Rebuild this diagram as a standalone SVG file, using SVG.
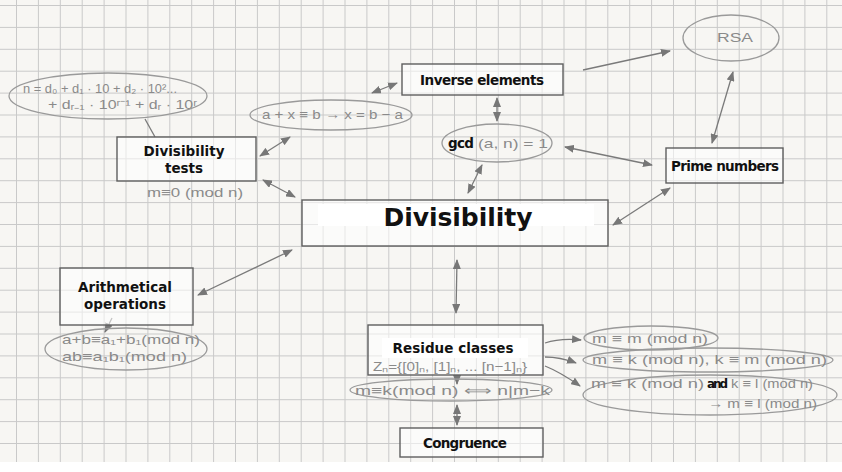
<svg xmlns="http://www.w3.org/2000/svg" width="842" height="472" viewBox="0 0 842 472">
<style>
.box{fill:#ffffff;fill-opacity:0.55;stroke:#5e5e5e;stroke-width:1.4}
.band{fill:#ffffff}
.lbl{font-family:"DejaVu Sans",Verdana,sans-serif;font-weight:bold;font-size:13.5px;fill:#111;text-anchor:middle}
.big{font-size:25px}
.hw{font-family:"Liberation Sans",Arial,sans-serif;font-size:13px;fill:#8a8a8a}
.ell{fill:none;stroke:#9a9a9a;stroke-width:1.3}
.con{fill:none;stroke:#7a7a7a;stroke-width:1.3}
.dbl{marker-start:url(#ah);marker-end:url(#ah)}
.one{marker-end:url(#ah)}
</style>
<defs>
<pattern id="grid" x="16" y="5" width="21.9" height="21.9" patternUnits="userSpaceOnUse">
<path d="M0 0.5H21.9M0.5 0V21.9" stroke="#c9c9c9" stroke-width="1" fill="none"/>
</pattern>
<marker id="ah" viewBox="0 0 10 8" refX="9" refY="4" markerWidth="10" markerHeight="8" markerUnits="userSpaceOnUse" orient="auto-start-reverse">
<path d="M0 0L10 4L0 8Z" fill="#777"/>
</marker>
</defs>
<rect width="842" height="472" fill="#ffffff"/>
<rect width="842" height="462" fill="#f7f6f3"/>
<rect width="842" height="462" fill="url(#grid)"/>

<g id="connectors">
<path class="con" d="M145,119 L155,137"/>
<path class="con dbl" d="M372,93 L397,83"/>
<path class="con one" d="M583,70 L670,51"/>
<path class="con dbl" d="M497,98 L497,121"/>
<path class="con dbl" d="M482,165 L468,193"/>
<path class="con dbl" d="M565,147 L652,165"/>
<path class="con dbl" d="M733,72 L712,143"/>
<path class="con dbl" d="M670,188 L613,225"/>
<path class="con dbl" d="M290,137 L260,156"/>
<path class="con dbl" d="M263,180 L295,197"/>
<path class="con dbl" d="M292,250 L198,295"/>
<path class="con dbl" d="M457,260 L456,313"/>
<path class="con one" d="M457,375 L457,384"/>
<path class="con dbl" d="M457,405 L457,425"/>
<path class="con one" d="M112,318 L105,332"/>
<path class="con one" d="M545,343 Q560,338 581,340"/>
<path class="con one" d="M545,357 Q560,357 576,363"/>
<path class="con one" d="M545,366 Q560,372 580,386"/>
</g>

<g id="node-digits">
<ellipse class="ell" cx="108" cy="96" rx="99" ry="23"/>
<text class="hw" x="23" y="93" textLength="154" lengthAdjust="spacingAndGlyphs">n = d₀ + d₁ · 10 + d₂ · 10²...</text>
<text class="hw" x="48" y="109" textLength="149" lengthAdjust="spacingAndGlyphs">+ dᵣ₋₁ · 10ʳ⁻¹ + dᵣ · 10ʳ</text>
</g>

<g id="node-divtests">
<rect class="box" x="117" y="137" width="139" height="44"/>
<text class="lbl" x="184" y="156" textLength="81">Divisibility</text>
<text class="lbl" x="184" y="173">tests</text>
<text class="hw" x="147" y="197" textLength="96" lengthAdjust="spacingAndGlyphs">m≡0 (mod n)</text>
</g>

<g id="node-axb">
<ellipse class="ell" cx="331" cy="115" rx="81" ry="15"/>
<text class="hw" x="262" y="119" textLength="141" lengthAdjust="spacingAndGlyphs">a + x ≡ b → x = b − a</text>
</g>

<g id="node-inverse">
<rect class="box" x="402" y="64" width="161" height="31"/>
<text class="lbl" x="482" y="85" textLength="124">Inverse elements</text>
</g>

<g id="node-gcd">
<ellipse class="ell" cx="497" cy="143" rx="55" ry="19"/>
<text class="lbl" x="461" y="148" textLength="26">gcd</text>
<text class="hw" x="478" y="148" textLength="70" lengthAdjust="spacingAndGlyphs">(a, n) = 1</text>
</g>

<g id="node-rsa">
<ellipse class="ell" cx="731" cy="38" rx="48" ry="23"/>
<text class="hw" x="717" y="42" textLength="36" lengthAdjust="spacingAndGlyphs">RSA</text>
</g>

<g id="node-prime">
<rect class="box" x="666" y="148" width="117" height="35"/>
<text class="lbl" x="725" y="171" textLength="108">Prime numbers</text>
</g>

<g id="node-divisibility">
<rect class="box" x="302" y="200" width="306" height="46"/>
<rect class="band" x="318" y="204" width="276" height="22"/>
<text class="lbl big" x="458" y="226" textLength="149">Divisibility</text>
</g>

<g id="node-arith">
<rect class="box" x="60" y="268" width="133" height="57"/>
<text class="lbl" x="125" y="292" textLength="94">Arithmetical</text>
<text class="lbl" x="125" y="309">operations</text>
</g>

<g id="node-arith-rules">
<ellipse class="ell" cx="126" cy="349" rx="81" ry="21"/>
<text class="hw" x="62" y="344" textLength="138" lengthAdjust="spacingAndGlyphs">a+b≡a₁+b₁(mod n)</text>
<text class="hw" x="62" y="361" textLength="125" lengthAdjust="spacingAndGlyphs">ab≡a₁b₁(mod n)</text>
</g>

<g id="node-residue">
<rect class="box" x="368" y="325" width="175" height="50"/>
<rect class="band" x="382" y="338" width="146" height="20"/>
<text class="lbl" x="453" y="353" textLength="121">Residue classes</text>
<text class="hw" x="373" y="371" textLength="154" lengthAdjust="spacingAndGlyphs">Zₙ={[0]ₙ, [1]ₙ, ... [n−1]ₙ}</text>
</g>

<g id="node-congdef">
<ellipse class="ell" cx="451" cy="390" rx="101" ry="11"/>
<text class="hw" x="355" y="395" textLength="195" lengthAdjust="spacingAndGlyphs">m≡k(mod n) ⟺ n|m−k</text>
</g>

<g id="node-congruence">
<rect class="box" x="400" y="428" width="143" height="29"/>
<text class="lbl" x="465" y="448" textLength="84">Congruence</text>
</g>

<g id="node-reflexive">
<ellipse class="ell" cx="651" cy="338" rx="67" ry="12"/>
<text class="hw" x="592" y="343" textLength="116" lengthAdjust="spacingAndGlyphs">m ≡ m (mod n)</text>
</g>

<g id="node-symmetric">
<ellipse class="ell" cx="708" cy="360" rx="125" ry="12"/>
<text class="hw" x="592" y="364" textLength="235" lengthAdjust="spacingAndGlyphs">m ≡ k (mod n), k ≡ m (mod n)</text>
</g>

<g id="node-transitive">
<ellipse class="ell" cx="710" cy="395" rx="127" ry="20"/>
<text class="hw" x="591" y="388" textLength="113" lengthAdjust="spacingAndGlyphs">m ≡ k (mod n)</text>
<text x="707" y="388" font-family="DejaVu Sans,Verdana,sans-serif" font-weight="bold" font-size="12" fill="#111" textLength="21">and</text>
<text class="hw" x="731" y="388" textLength="82" lengthAdjust="spacingAndGlyphs">k ≡ l (mod n)</text>
<text class="hw" x="708" y="408" textLength="109" lengthAdjust="spacingAndGlyphs">→ m ≡ l (mod n)</text>
</g>
</svg>
